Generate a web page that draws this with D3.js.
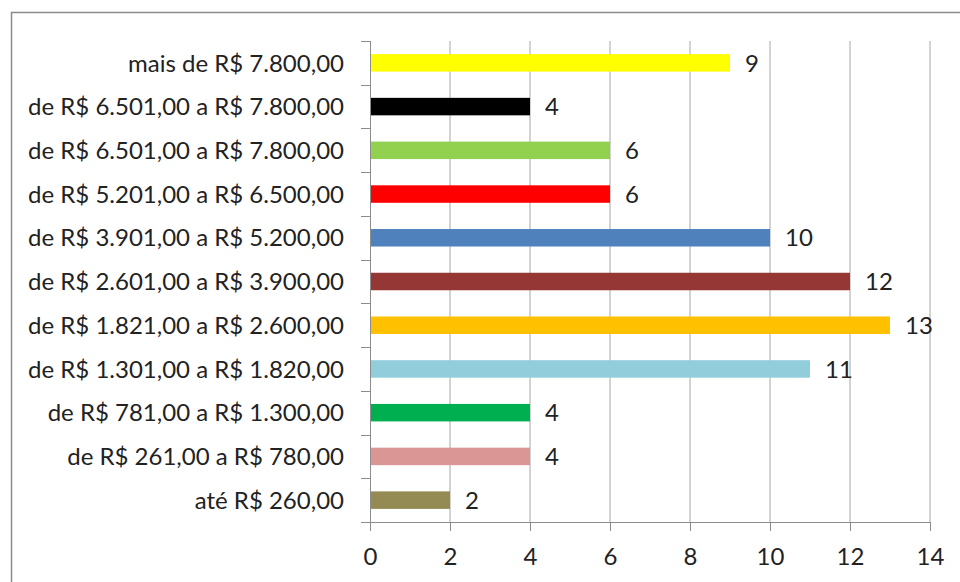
<!DOCTYPE html>
<html><head><meta charset="utf-8">
<script src="https://cdn.jsdelivr.net/npm/d3@7"></script>
<style>body{margin:0;background:#fff}svg{display:block}</style>
</head><body><svg id="c" width="960" height="582"></svg>
<script>
const categories = [
  "mais de R$ 7.800,00",
  "de R$ 6.501,00 a R$ 7.800,00",
  "de R$ 6.501,00 a R$ 7.800,00",
  "de R$ 5.201,00 a R$ 6.500,00",
  "de R$ 3.901,00 a R$ 5.200,00",
  "de R$ 2.601,00 a R$ 3.900,00",
  "de R$ 1.821,00 a R$ 2.600,00",
  "de R$ 1.301,00 a R$ 1.820,00",
  "de R$ 781,00 a R$ 1.300,00",
  "de R$ 261,00 a R$ 780,00",
  "até R$ 260,00"
];
const values = [9, 4, 6, 6, 10, 12, 13, 11, 4, 4, 2];
const colors = ["#FFFF00","#000000","#92D050","#FF0000","#4F81BD","#953735","#FFC000","#92CDDC","#00B050","#D99694","#948A54"];
const xTicks = [0, 2, 4, 6, 8, 10, 12, 14];

(function () {
const svg = d3.select("#c");
const font = "Lato, 'Open Sans', sans-serif";
const fs = 24;
const pLeft = 370, pRight = 930, pTop = 41, pBottom = 522;

// frame
svg.append("path").attr("d", `M11.5,${582} V12.5 H960`).attr("fill","none").attr("stroke","#8c8c8c").attr("stroke-width",1.5);

const x = d3.scaleLinear().domain([0, 14]).range([pLeft, pRight]);
const y = d3.scaleBand().domain(d3.range(categories.length)).range([pTop, pBottom]).paddingInner(0.6).paddingOuter(0.3);

// gridlines
svg.append("g").selectAll("line").data(xTicks.filter(d => d > 0)).join("line")
  .attr("x1", d => x(d)).attr("x2", d => x(d)).attr("y1", pTop).attr("y2", pBottom)
  .attr("stroke", "#a6a6a6").attr("stroke-width", 1);

// bars
svg.append("g").selectAll("rect").data(values).join("rect")
  .attr("x", x(0)).attr("y", (d, i) => y(i))
  .attr("width", d => x(d) - x(0)).attr("height", y.bandwidth())
  .attr("fill", (d, i) => colors[i]);

// value labels
svg.append("g").selectAll("text").data(values).join("text")
  .attr("x", d => x(d) + 15).attr("y", (d, i) => y(i) + y.bandwidth() / 2)
  .attr("dy", "0.36em").attr("font-family", font).attr("font-size", fs).attr("fill", "#222")
  .text(d => d);

// x axis
const xAxis = d3.axisBottom(x).tickValues(xTicks).tickSize(9).tickPadding(17).tickFormat(d3.format("d"));
const gx = svg.append("g").attr("transform", `translate(0,${pBottom})`).call(xAxis);
gx.select(".domain").attr("stroke", "#8c8c8c");
gx.selectAll(".tick line").attr("stroke", "#8c8c8c");
gx.selectAll("text").attr("font-family", font).attr("font-size", fs).attr("fill", "#222");

// y axis line and category ticks
const bounds = d3.range(categories.length + 1).map(i => pTop + (pBottom - pTop) * i / categories.length);
svg.append("line").attr("x1", pLeft + 0.5).attr("x2", pLeft + 0.5).attr("y1", pTop).attr("y2", pBottom + 9)
  .attr("stroke", "#8c8c8c");
svg.append("g").selectAll("line").data(bounds).join("line")
  .attr("x1", pLeft - 9).attr("x2", pLeft).attr("y1", d => Math.round(d) + 0.5).attr("y2", d => Math.round(d) + 0.5)
  .attr("stroke", "#8c8c8c");
svg.append("g").selectAll("text").data(categories).join("text")
  .attr("x", 344).attr("y", (d, i) => y(i) + y.bandwidth() / 2)
  .attr("dy", "0.36em").attr("text-anchor", "end")
  .attr("font-family", font).attr("font-size", fs).attr("fill", "#222")
  .text(d => d);
})();
</script></body></html>
